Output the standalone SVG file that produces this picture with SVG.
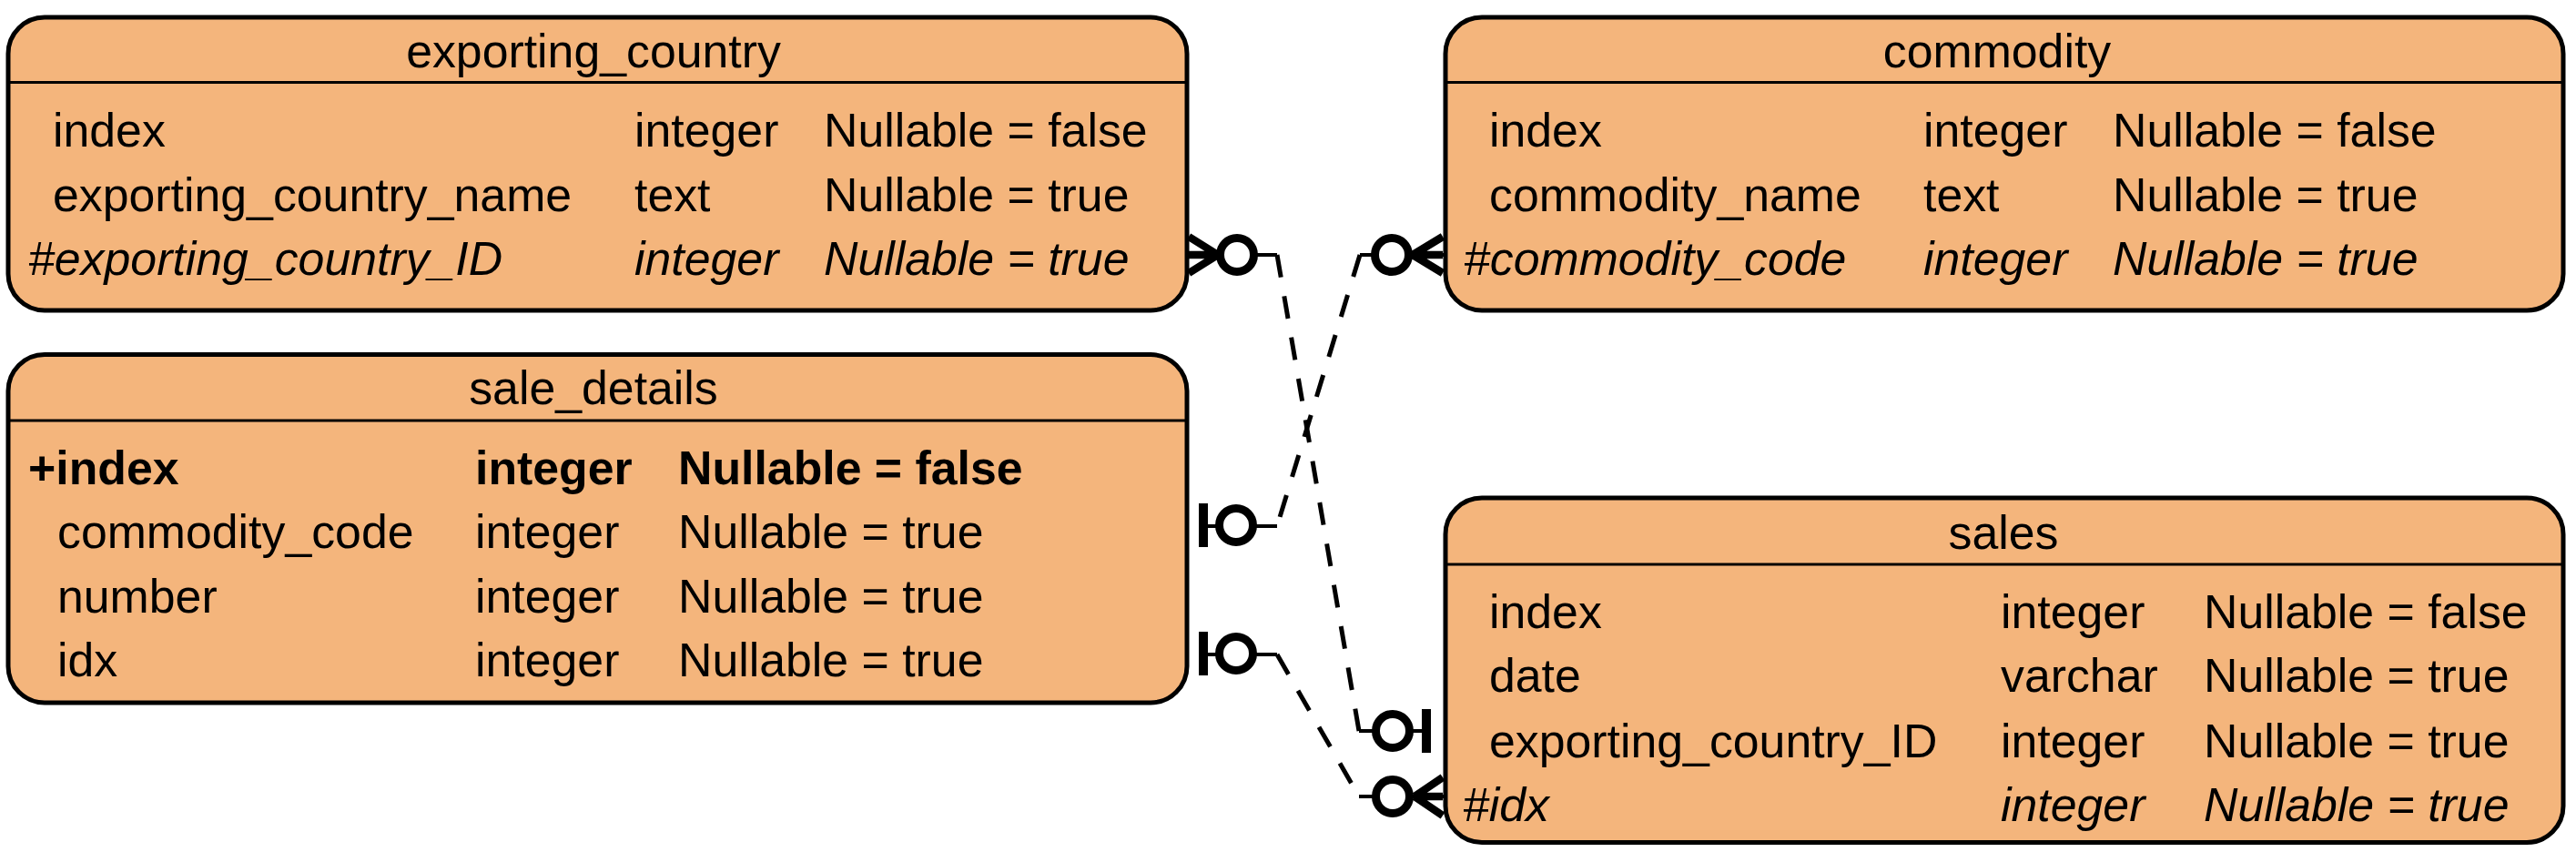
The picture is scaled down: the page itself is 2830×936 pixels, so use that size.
<svg xmlns="http://www.w3.org/2000/svg" width="2830" height="936" viewBox="0 0 2830 936">
<style>
.box{fill:#F4B57C;stroke:#000;stroke-width:5}
.hl{stroke:#000;stroke-width:3}
text{font-family:"Liberation Sans",Arial,sans-serif;font-size:51.8px;fill:#000}
.title{text-anchor:middle}
.it{font-style:italic}
.bd{font-weight:bold}
.thin{stroke:#000;stroke-width:4;fill:none}
.dash{stroke:#000;stroke-width:5;fill:none;stroke-dasharray:25 21}
.prong{stroke:#000;stroke-width:8.5;fill:none}
.ring{stroke:#000;stroke-width:9;fill:#fff}
.bar{fill:#000}
</style>
<rect width="2830" height="936" fill="#fff"/>
<g id="exporting_country">
<rect class="box" x="9" y="19" width="1295" height="322" rx="40"/>
<line class="hl" x1="9" y1="90.5" x2="1304" y2="90.5"/>
<text class="title" x="652" y="74">exporting_country</text>
<text x="58" y="160.5">index</text><text x="697" y="160.5">integer</text><text x="905" y="160.5">Nullable = false</text>
<text x="58" y="231.5">exporting_country_name</text><text x="697" y="231.5">text</text><text x="905" y="231.5">Nullable = true</text>
<text class="it" x="31" y="301.7">#exporting_country_ID</text><text class="it" x="697" y="301.7">integer</text><text class="it" x="905" y="301.7">Nullable = true</text>
</g>
<g id="commodity">
<rect class="box" x="1588" y="19" width="1228" height="322" rx="40"/>
<line class="hl" x1="1588" y1="90.5" x2="2816" y2="90.5"/>
<text class="title" x="2194" y="74">commodity</text>
<text x="1636" y="160.5">index</text><text x="2113" y="160.5">integer</text><text x="2321" y="160.5">Nullable = false</text>
<text x="1636" y="231.5">commodity_name</text><text x="2113" y="231.5">text</text><text x="2321" y="231.5">Nullable = true</text>
<text class="it" x="1608" y="301.7">#commodity_code</text><text class="it" x="2113" y="301.7">integer</text><text class="it" x="2321" y="301.7">Nullable = true</text>
</g>
<g id="sale_details">
<rect class="box" x="9" y="389.5" width="1295" height="382.5" rx="40"/>
<line class="hl" x1="9" y1="462" x2="1304" y2="462"/>
<text class="title" x="652" y="444">sale_details</text>
<text class="bd" x="31" y="531.7">+index</text><text class="bd" x="522" y="531.7">integer</text><text class="bd" x="745" y="531.7">Nullable = false</text>
<text x="63" y="601.7">commodity_code</text><text x="522" y="601.7">integer</text><text x="745" y="601.7">Nullable = true</text>
<text x="63" y="672.5">number</text><text x="522" y="672.5">integer</text><text x="745" y="672.5">Nullable = true</text>
<text x="63" y="743">idx</text><text x="522" y="743">integer</text><text x="745" y="743">Nullable = true</text>
</g>
<g id="sales">
<rect class="box" x="1588" y="547" width="1228" height="378.5" rx="40"/>
<line class="hl" x1="1588" y1="620" x2="2816" y2="620"/>
<text class="title" x="2201" y="603">sales</text>
<text x="1636" y="690">index</text><text x="2198" y="690">integer</text><text x="2421" y="690">Nullable = false</text>
<text x="1636" y="760">date</text><text x="2198" y="760">varchar</text><text x="2421" y="760">Nullable = true</text>
<text x="1636" y="831.7">exporting_country_ID</text><text x="2198" y="831.7">integer</text><text x="2421" y="831.7">Nullable = true</text>
<text class="it" x="1607" y="901.7">#idx</text><text class="it" x="2198" y="901.7">integer</text><text class="it" x="2421" y="901.7">Nullable = true</text>
</g>
<g id="connectors">
<!-- exporting_country -> sales -->
<path class="thin" d="M1304 280 H1403"/>
<path class="dash" d="M1403 280 L1493 803"/>
<path class="thin" d="M1493 803 H1567"/>
<path class="prong" d="M1306 260 L1338 280 M1306 280 H1338 M1306 300 L1338 280"/>
<circle class="ring" cx="1359" cy="280" r="18.5"/>
<circle class="ring" cx="1530" cy="803" r="18.5"/>
<rect class="bar" x="1562" y="779" width="10" height="48"/>
<!-- commodity -> sale_details -->
<path class="thin" d="M1587 280 H1494"/>
<path class="dash" d="M1494 280 L1403 578"/>
<path class="thin" d="M1403 578 H1322"/>
<path class="prong" d="M1585 260 L1552 280 M1585 280 H1552 M1585 300 L1552 280"/>
<circle class="ring" cx="1529" cy="280" r="18.5"/>
<circle class="ring" cx="1358" cy="577" r="18.5"/>
<rect class="bar" x="1317" y="553" width="10" height="48"/>
<!-- sale_details -> sales -->
<path class="thin" d="M1322 719 H1403"/>
<path class="dash" d="M1403 719 L1493 875"/>
<path class="thin" d="M1493 875 H1587"/>
<circle class="ring" cx="1358" cy="718" r="18.5"/>
<rect class="bar" x="1317" y="694" width="10" height="48"/>
<path class="prong" d="M1585 854 L1554 875 M1585 875 H1554 M1585 896 L1554 875"/>
<circle class="ring" cx="1530" cy="875" r="18.5"/>
</g>
</svg>
